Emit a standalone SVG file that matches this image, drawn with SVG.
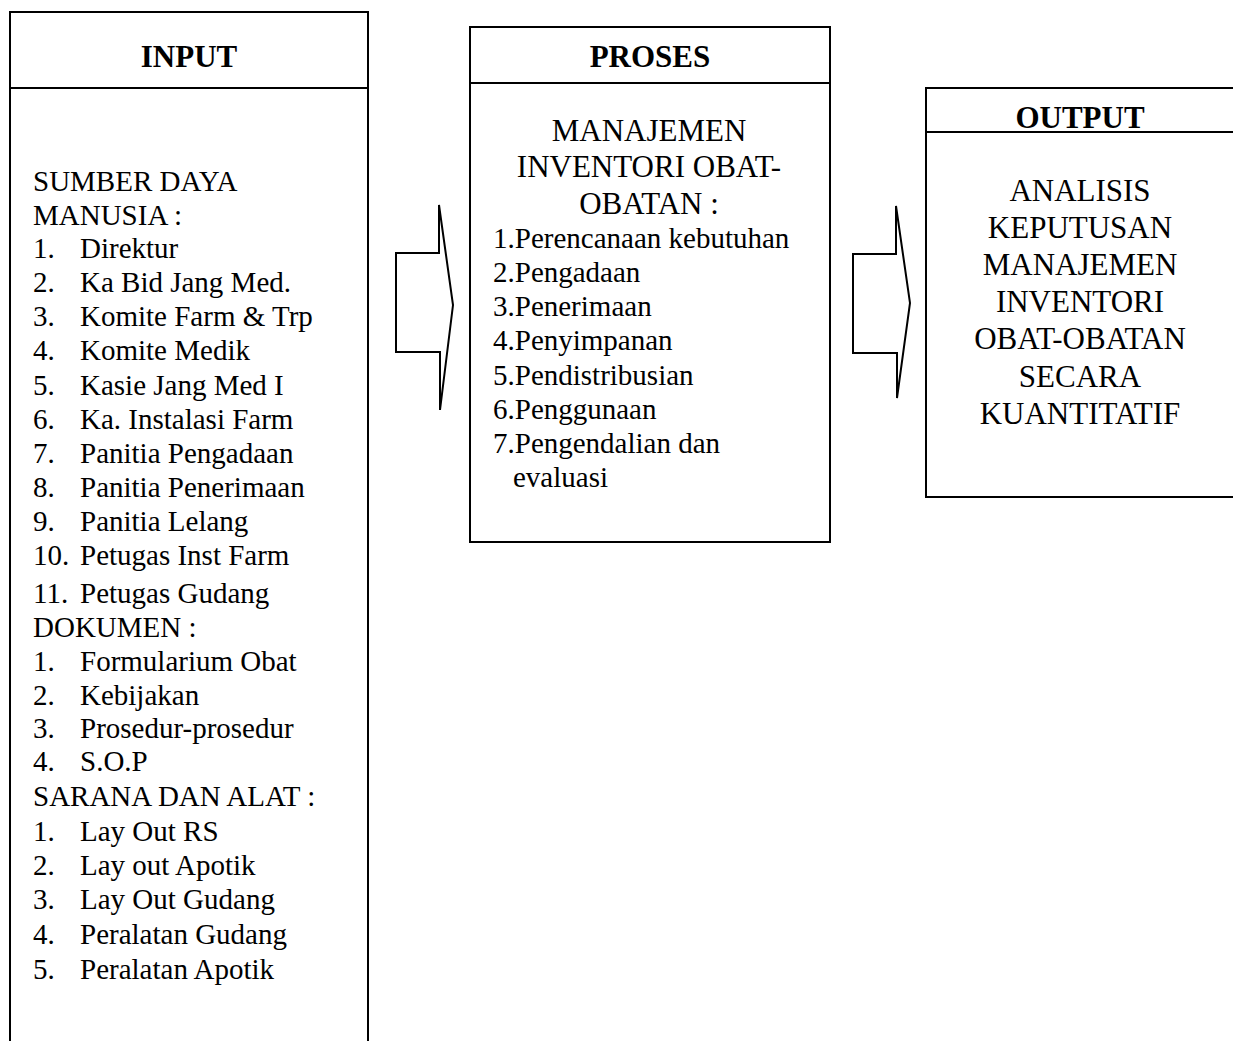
<svg xmlns="http://www.w3.org/2000/svg" width="1233" height="1041" viewBox="0 0 1233 1041">
<style>
.ln{fill:none;stroke:#000;stroke-width:2}
.h{font-family:"Liberation Serif",serif;font-size:31px;font-weight:bold;text-anchor:middle}
.t{font-family:"Liberation Serif",serif;font-size:29px}
.c{font-family:"Liberation Serif",serif;font-size:31px;text-anchor:middle}
</style>
<rect width="1233" height="1041" fill="#fff"/>
<g id="input">
<path class="ln" d="M10,1041 V12 H368 V1041 M10,88 H368"/>
<text class="h" x="189" y="67">INPUT</text>
<g class="t">
<text x="33" y="191">SUMBER DAYA</text>
<text x="33" y="225">MANUSIA :</text>
<text x="33" y="258">1.</text><text x="80" y="258">Direktur</text>
<text x="33" y="292">2.</text><text x="80" y="292">Ka Bid Jang Med.</text>
<text x="33" y="326">3.</text><text x="80" y="326">Komite Farm &amp; Trp</text>
<text x="33" y="360">4.</text><text x="80" y="360">Komite Medik</text>
<text x="33" y="395">5.</text><text x="80" y="395">Kasie Jang Med I</text>
<text x="33" y="429">6.</text><text x="80" y="429">Ka. Instalasi Farm</text>
<text x="33" y="463">7.</text><text x="80" y="463">Panitia Pengadaan</text>
<text x="33" y="497">8.</text><text x="80" y="497">Panitia Penerimaan</text>
<text x="33" y="531">9.</text><text x="80" y="531">Panitia Lelang</text>
<text x="33" y="565">10.</text><text x="80" y="565">Petugas Inst Farm</text>
<text x="33" y="603">11.</text><text x="80" y="603">Petugas Gudang</text>
<text x="33" y="637">DOKUMEN :</text>
<text x="33" y="671">1.</text><text x="80" y="671">Formularium Obat</text>
<text x="33" y="705">2.</text><text x="80" y="705">Kebijakan</text>
<text x="33" y="738">3.</text><text x="80" y="738">Prosedur-prosedur</text>
<text x="33" y="771">4.</text><text x="80" y="771">S.O.P</text>
<text x="33" y="806">SARANA DAN ALAT :</text>
<text x="33" y="841">1.</text><text x="80" y="841">Lay Out RS</text>
<text x="33" y="875">2.</text><text x="80" y="875">Lay out Apotik</text>
<text x="33" y="909">3.</text><text x="80" y="909">Lay Out Gudang</text>
<text x="33" y="944">4.</text><text x="80" y="944">Peralatan Gudang</text>
<text x="33" y="979">5.</text><text x="80" y="979">Peralatan Apotik</text>
</g>
</g>
<g id="proses">
<rect class="ln" x="470" y="27" width="360" height="515"/>
<path class="ln" d="M470,83 H830"/>
<text class="h" x="650" y="67">PROSES</text>
<text class="c" x="649" y="141">MANAJEMEN</text>
<text class="c" x="649" y="177">INVENTORI OBAT-</text>
<text class="c" x="649" y="214">OBATAN :</text>
<g class="t">
<text x="493" y="248">1.Perencanaan kebutuhan</text>
<text x="493" y="282">2.Pengadaan</text>
<text x="493" y="316">3.Penerimaan</text>
<text x="493" y="350">4.Penyimpanan</text>
<text x="493" y="385">5.Pendistribusian</text>
<text x="493" y="419">6.Penggunaan</text>
<text x="493" y="453">7.Pengendalian dan</text>
<text x="513" y="487">evaluasi</text>
</g>
</g>
<g id="output">
<path class="ln" d="M1233,88 H926 V497 H1233 M926,132 H1233"/>
<text class="h" x="1080" y="128">OUTPUT</text>
<g class="c">
<text x="1080" y="201">ANALISIS</text>
<text x="1080" y="238">KEPUTUSAN</text>
<text x="1080" y="275">MANAJEMEN</text>
<text x="1080" y="312">INVENTORI</text>
<text x="1080" y="349">OBAT-OBATAN</text>
<text x="1080" y="387">SECARA</text>
<text x="1080" y="424">KUANTITATIF</text>
</g>
</g>
<g id="connectors">
<polygon class="ln" points="396,253 439,253 439,205 453,305 440,410 440,352 396,352"/>
<polygon class="ln" points="853,254 896,254 896,206 910,303 897,398 897,353 853,353"/>
</g>
</svg>
